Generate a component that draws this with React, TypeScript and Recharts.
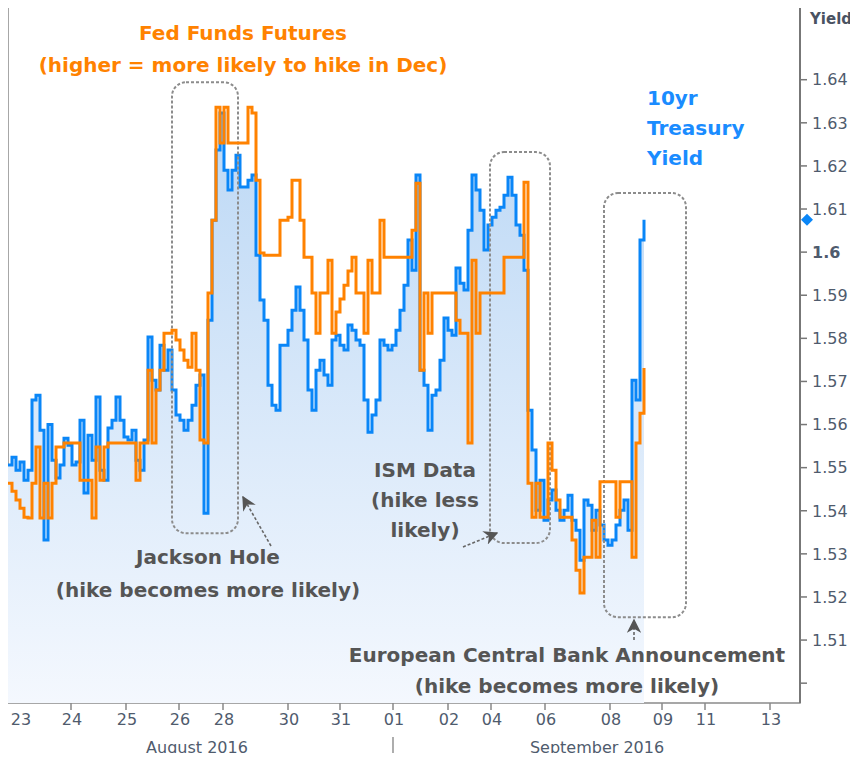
import { ComposedChart, Area, Line, XAxis, YAxis, ReferenceArea, ReferenceDot } from 'recharts';

// one sample every time step of the compressed trading-time axis
const treasuryYield = [
  1.5506, 1.5524, 1.5494, 1.5513, 1.5471, 1.5494, 1.5657, 1.5668, 1.5587, 1.5332,
  1.5600, 1.5517, 1.5476, 1.5506, 1.5568, 1.5552, 1.5506, 1.5513, 1.5610, 1.5441,
  1.5575, 1.5517, 1.5664, 1.5494, 1.5471, 1.5592, 1.5610, 1.5664, 1.5610, 1.5571,
  1.5564, 1.5587, 1.5517, 1.5494, 1.5564, 1.5803, 1.5703, 1.5680, 1.5784, 1.5726,
  1.5773, 1.5680, 1.5622, 1.5610, 1.5587, 1.5610, 1.5645, 1.5691, 1.5715, 1.5394,
  1.5842, 1.6074, 1.6237, 1.6323, 1.6190, 1.6144, 1.6190, 1.6225, 1.6151, 1.6151,
  1.6167, 1.6179, 1.5993, 1.5889, 1.5842, 1.5691, 1.5645, 1.5633, 1.5784, 1.5784,
  1.5819, 1.5865, 1.5919, 1.5865, 1.5796, 1.5680, 1.5633, 1.5726, 1.5749, 1.5715,
  1.5691, 1.5796, 1.5807, 1.5784, 1.5773, 1.5831, 1.5819, 1.5796, 1.5784, 1.5657,
  1.5582, 1.5622, 1.5657, 1.5796, 1.5784, 1.5773, 1.5784, 1.5819, 1.5865, 1.5923,
  1.6028, 1.5958, 1.6179, 1.5726, 1.5691, 1.5587, 1.5668, 1.5680, 1.5749, 1.5847,
  1.5819, 1.5807, 1.5963, 1.5928, 1.5912, 1.6051, 1.6179, 1.6144, 1.6097, 1.6005,
  1.6063, 1.6081, 1.6097, 1.6104, 1.6132, 1.6174, 1.6132, 1.6063, 1.6039, 1.5958,
  1.5633, 1.5541, 1.5401, 1.5471, 1.5378, 1.5425, 1.5448, 1.5401, 1.5378, 1.5401,
  1.5436, 1.5378, 1.5355, 1.5285, 1.5425, 1.5413, 1.5355, 1.5401, 1.5367, 1.5332,
  1.5320, 1.5332, 1.5367, 1.5401, 1.5425, 1.5355, 1.5703, 1.5657, 1.6028, 1.6075,
];

const fedFundsFutures = [
  1.5464, 1.5445, 1.5425, 1.5406, 1.5385, 1.5383, 1.5464, 1.5548, 1.5383, 1.5464,
  1.5383, 1.5464, 1.5548, 1.5548, 1.5557, 1.5557, 1.5557, 1.5557, 1.5471, 1.5471,
  1.5471, 1.5383, 1.5548, 1.5471, 1.5548, 1.5557, 1.5557, 1.5557, 1.5557, 1.5557,
  1.5557, 1.5557, 1.5471, 1.5557, 1.5557, 1.5726, 1.5557, 1.5680, 1.5726, 1.5812,
  1.5812, 1.5819, 1.5796, 1.5773, 1.5749, 1.5733, 1.5812, 1.5726, 1.5564, 1.5557,
  1.5905, 1.6074, 1.6336, 1.6253, 1.6336, 1.6253, 1.6253, 1.6253, 1.6253, 1.6253,
  1.6336, 1.6323, 1.6167, 1.5998, 1.5993, 1.5993, 1.5993, 1.5993, 1.6074, 1.6074,
  1.6081, 1.6167, 1.6167, 1.6074, 1.5988, 1.5988, 1.5905, 1.5812, 1.5905, 1.5905,
  1.5981, 1.5812, 1.5861, 1.5891, 1.5923, 1.5956, 1.5988, 1.5905, 1.5905, 1.5812,
  1.5981, 1.5905, 1.5905, 1.6074, 1.5988, 1.5988, 1.5988, 1.5988, 1.5988, 1.5988,
  1.5988, 1.6051, 1.6160, 1.5726, 1.5905, 1.5812, 1.5905, 1.5905, 1.5905, 1.5905,
  1.5905, 1.5905, 1.5842, 1.5812, 1.5812, 1.5557, 1.5981, 1.5812, 1.5905, 1.5905,
  1.5905, 1.5905, 1.5905, 1.5905, 1.5988, 1.5988, 1.5988, 1.5988, 1.5988, 1.6162,
  1.5464, 1.5385, 1.5464, 1.5385, 1.5385, 1.5557, 1.5494, 1.5425, 1.5385, 1.5385,
  1.5385, 1.5332, 1.5262, 1.5209, 1.5292, 1.5292, 1.5378, 1.5292, 1.5467, 1.5467,
  1.5467, 1.5467, 1.5385, 1.5467, 1.5467, 1.5467, 1.5292, 1.5557, 1.5626, 1.5731,
];

const dayTicks = [3, 15.75, 29.5, 42.75, 53.75, 70, 83, 96.25, 110, 120.75, 134.25, 150.5, 163.5, 174.25, 190.5];
const dayLabels = ['23', '24', '25', '26', '28', '30', '31', '01', '02', '04', '06', '08', '09', '11', '13'];
const monthTicks = [47.25, 96.25, 147.25];
const monthLabels = ['August 2016', '|', 'September 2016'];
const yieldTicks = [1.5, 1.51, 1.52, 1.53, 1.54, 1.55, 1.56, 1.57, 1.58, 1.59, 1.6, 1.61, 1.62, 1.63, 1.64];
const lastYield = 1.6075;

const FONT = "'DejaVu Sans', sans-serif";
const LABEL = '#4f5b6d';
const GREY = '#555555';
const BLUE = '#0a86f7';
const ORANGE = '#ff8200';

function DayTick({ x, y, payload, index }: any) {
  const i = dayTicks.indexOf(payload.value);
  return (
    <g>
      {index > 0 && <line x1={x} x2={x} y1={y} y2={y + 7} stroke='#888' strokeWidth={1.5} />}
      <text x={x + 1} y={y + 22} textAnchor='middle' fontSize={16} fill={LABEL} fontFamily={FONT}>
        {dayLabels[i]}
      </text>
    </g>
  );
}

function MonthTick({ x, y, payload }: any) {
  const label = monthLabels[monthTicks.indexOf(payload.value)];
  if (label === '|') {
    return <line x1={x} x2={x} y1={y + 4} y2={y + 30} stroke='#777' strokeWidth={1.2} />;
  }
  return (
    <text x={x} y={y + 20} textAnchor='middle' fontSize={16} fill={LABEL} fontFamily={FONT}>
      {label}
    </text>
  );
}

function YieldTick({ x, y, payload }: any) {
  const v = payload.value;
  return (
    <g>
      <line x1={x} x2={x + 7} y1={y} y2={y} stroke='#777' strokeWidth={1.5} />
      {v > 1.505 && (
        <text x={x + 12} y={y} dy='0.36em' fontSize={16} fill={LABEL} fontFamily={FONT}
          fontWeight={v === 1.6 ? 'bold' : 'normal'}>
          {String(v)}
        </text>
      )}
    </g>
  );
}

const dashedBox = (p: any) => (
  <rect x={p.x} y={p.y} width={p.width} height={p.height} rx={14} ry={14}
    fill='none' stroke='#8c8c8c' strokeWidth={2} strokeDasharray='3 2' />
);

const diamond = (p: any) => (
  <path d={`M${p.cx + 7},${p.cy - 6} L${p.cx + 13},${p.cy} L${p.cx + 7},${p.cy + 6} L${p.cx + 1},${p.cy} Z`} fill={BLUE} />
);

export default function App() {
  const data = treasuryYield.map((v, i) => ({ t: i, yield: v, futures: fedFundsFutures[i] }));

  const note = { fontFamily: FONT, fontWeight: 'bold' as const, fontSize: 20 };

  return (
    <div style={{ position: 'relative', width: 858, height: 761, margin: -8 }}>
      <ComposedChart width={858} height={761} data={data} margin={{ top: 6, right: 0, bottom: 0, left: 8 }}>
        <defs>
          <linearGradient id='yieldFill' x1='0' y1='0' x2='0' y2='1'>
            <stop offset='0%' stopColor='#bcd8f5' />
            <stop offset='100%' stopColor='#f4f8fe' />
          </linearGradient>
        </defs>
        <XAxis dataKey='t' type='number' domain={[0, 198]} ticks={dayTicks} height={30}
          axisLine={false} tickLine={false} tickSize={0} tickMargin={0} tick={<DayTick />} interval={0} />
        <XAxis xAxisId='month' dataKey='t' type='number' domain={[0, 198]} ticks={monthTicks} height={28}
          axisLine={false} tickLine={false} tickSize={0} tickMargin={0} tick={<MonthTick />} interval={0} />
        <YAxis orientation='right' type='number' domain={[1.4954, 1.6571]} ticks={yieldTicks} width={58}
          allowDataOverflow axisLine={{ stroke: '#777', strokeWidth: 2 }} tickLine={false}
          tickSize={0} tickMargin={0} tick={<YieldTick />} interval={0} />
        <ReferenceArea x1={0} x2={198} y1={1.4954} y2={1.6571} fill='none' stroke='#8a8a8a'
          strokeWidth={1.5} ifOverflow='visible' />
        <Area type='stepAfter' dataKey='yield' stroke={BLUE} strokeWidth={3} fill='url(#yieldFill)'
          fillOpacity={1} baseValue='dataMin' dot={false} activeDot={false} isAnimationActive={false} />
        <Line type='stepAfter' dataKey='futures' stroke={ORANGE} strokeWidth={3} dot={false}
          activeDot={false} isAnimationActive={false} />
        <ReferenceArea x1={41} x2={57.5} y1={1.5348} y2={1.6394} shape={dashedBox} ifOverflow='visible' />
        <ReferenceArea x1={120.5} x2={135.5} y1={1.5325} y2={1.6232} shape={dashedBox} ifOverflow='visible' />
        <ReferenceArea x1={149} x2={169.5} y1={1.5153} y2={1.6137} shape={dashedBox} ifOverflow='visible' />
        <ReferenceDot x={198} y={lastYield} shape={diamond} ifOverflow='visible' />
      </ComposedChart>

      <svg width={858} height={761} style={{ position: 'absolute', left: 0, top: 0, pointerEvents: 'none' }}>
        <defs>
          <marker id='arrowHead' viewBox='0 0 10 10' refX='9' refY='5' markerWidth='9' markerHeight='9' orient='auto'>
            <path d='M0,0 L10,5 L0,10 L3,5 Z' fill='#555' />
          </marker>
        </defs>
        <text x={831} y={24} textAnchor='middle' fontFamily={FONT} fontWeight='bold' fontSize={15} fill='#4a5262'>Yield</text>

        <g {...note} fill={ORANGE} textAnchor='middle'>
          <text x={243} y={40}>Fed Funds Futures</text>
          <text x={243} y={72}>(higher = more likely to hike in Dec)</text>
        </g>
        <g {...note} fill='#1a8cff'>
          <text x={647} y={105}>10yr</text>
          <text x={647} y={135}>Treasury</text>
          <text x={647} y={165}>Yield</text>
        </g>
        <g {...note} fill={GREY} textAnchor='middle'>
          <text x={208} y={564}>Jackson Hole</text>
          <text x={208} y={597}>(hike becomes more likely)</text>
          <text x={425} y={477}>ISM Data</text>
          <text x={425} y={507}>(hike less</text>
          <text x={425} y={537}>likely)</text>
          <text x={567} y={662}>European Central Bank Announcement</text>
          <text x={567} y={693}>(hike becomes more likely)</text>
        </g>
        <g stroke='#666' strokeWidth={1.6} strokeDasharray='3 2' fill='none' markerEnd='url(#arrowHead)'>
          <line x1={271} y1={546} x2={243} y2={497} />
          <line x1={463} y1={547} x2={497} y2={533} />
          <line x1={634} y1={640} x2={634} y2={620} />
        </g>
      </svg>
    </div>
  );
}
